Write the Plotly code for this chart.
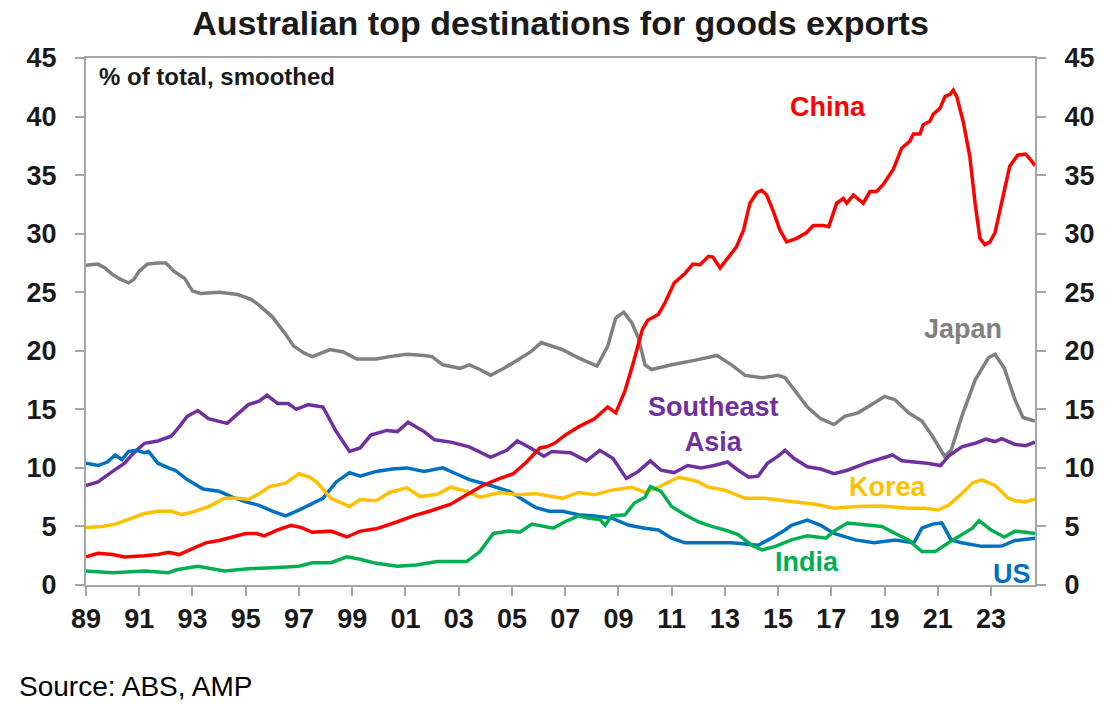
import plotly.graph_objects as go

# ---------------- data ----------------
tick_years = [1989, 1991, 1993, 1995, 1997, 1999, 2001, 2003, 2005, 2007,
              2009, 2011, 2013, 2015, 2017, 2019, 2021, 2023]
tick_labels = ["89", "91", "93", "95", "97", "99", "01", "03", "05", "07",
               "09", "11", "13", "15", "17", "19", "21", "23"]
y_ticks = [0, 5, 10, 15, 20, 25, 30, 35, 40, 45]

japan_x = [1989.0, 1989.45, 1989.7, 1990.0, 1990.3, 1990.6, 1990.8, 1991.0, 1991.3, 1991.7,
           1992.0, 1992.3, 1992.7, 1993.0, 1993.3, 1994.0, 1994.7, 1995.2, 1995.5, 1996.0,
           1996.5, 1996.8, 1997.2, 1997.5, 1998.17, 1998.67, 1999.17, 1999.9, 2000.4, 2001.05,
           2001.7, 2002.0, 2002.4, 2003.05, 2003.4, 2003.8, 2004.2, 2004.7, 2005.2, 2005.7,
           2006.1, 2006.4, 2006.9, 2007.5, 2008.2, 2008.6, 2008.9, 2009.2, 2009.5, 2009.75,
           2010.0, 2010.25, 2011.0, 2011.9, 2012.7, 2013.25, 2013.76, 2014.4, 2015.0, 2015.26,
           2015.6, 2016.1, 2016.6, 2017.1, 2017.5, 2018.0, 2018.5, 2019.0, 2019.4, 2019.9,
           2020.4, 2020.8, 2021.25, 2021.5, 2021.9, 2022.4, 2022.9, 2023.15, 2023.5, 2023.9,
           2024.2, 2024.65]
japan_y = [27.3, 27.4, 27.1, 26.5, 26.1, 25.8, 26.1, 26.8, 27.4, 27.5,
           27.5, 26.8, 26.2, 25.1, 24.9, 25.0, 24.8, 24.4, 23.9, 22.9,
           21.4, 20.4, 19.8, 19.5, 20.1, 19.9, 19.3, 19.3, 19.5, 19.7,
           19.6, 19.5, 18.8, 18.5, 18.8, 18.4, 17.9, 18.5, 19.2, 19.9,
           20.7, 20.5, 20.1, 19.4, 18.7, 20.4, 22.8, 23.3, 22.4, 21.1,
           18.8, 18.4, 18.8, 19.2, 19.6, 18.8, 17.9, 17.7, 17.9, 17.7,
           16.7, 15.2, 14.2, 13.7, 14.4, 14.7, 15.4, 16.1, 15.8, 14.7,
           14.0, 12.7, 11.0, 11.5, 14.4, 17.5, 19.4, 19.7, 18.5, 15.8,
           14.3, 14.0]

sea_x = [1989.0, 1989.45, 1990.0, 1990.45, 1990.8, 1991.2, 1991.7, 1992.2, 1992.5, 1992.8,
         1993.2, 1993.6, 1994.3, 1994.6, 1995.1, 1995.5, 1995.8, 1996.2, 1996.6, 1996.9,
         1997.35, 1997.9, 1998.4, 1998.9, 1999.3, 1999.7, 2000.3, 2000.7, 2001.1, 2001.7,
         2002.1, 2002.7, 2003.4, 2004.2, 2004.8, 2005.2, 2005.7, 2006.2, 2006.5, 2007.2,
         2007.8, 2008.3, 2008.8, 2009.3, 2009.75, 2010.2, 2010.6, 2011.1, 2011.6, 2012.1,
         2012.6, 2013.1, 2013.5, 2013.9, 2014.25, 2014.6, 2015.0, 2015.26, 2015.6, 2016.1,
         2016.6, 2017.1, 2017.6, 2018.3, 2018.9, 2019.3, 2019.65, 2020.1, 2020.6, 2021.1,
         2021.4, 2021.9, 2022.4, 2022.8, 2023.15, 2023.4, 2023.9, 2024.3, 2024.65]
sea_y = [8.5, 8.8, 9.7, 10.4, 11.3, 12.1, 12.3, 12.7, 13.5, 14.4,
         14.9, 14.2, 13.8, 14.4, 15.4, 15.7, 16.2, 15.5, 15.5, 15.0,
         15.4, 15.2, 13.1, 11.4, 11.7, 12.8, 13.2, 13.1, 13.9, 13.1,
         12.4, 12.2, 11.8, 10.9, 11.5, 12.3, 11.7, 11.0, 11.4, 11.3,
         10.6, 11.5, 10.8, 9.1, 9.7, 10.6, 9.8, 9.6, 10.2, 10.0,
         10.2, 10.5, 9.8, 9.2, 9.3, 10.4, 11.0, 11.5, 10.8, 10.1,
         9.9, 9.5, 9.8, 10.4, 10.8, 11.1, 10.6, 10.5, 10.4, 10.2,
         11.0, 11.8, 12.1, 12.45, 12.25, 12.5, 12.0, 11.9, 12.2]

us_x = [1989.0, 1989.45, 1989.8, 1990.1, 1990.35, 1990.6, 1990.9, 1991.2, 1991.35, 1991.7,
        1992.1, 1992.35, 1992.8, 1993.4, 1994.0, 1994.5, 1995.0, 1995.5, 1996.0, 1996.5,
        1997.0, 1997.5, 1997.9, 1998.4, 1998.9, 1999.3, 1999.9, 2000.5, 2001.05, 2001.7,
        2002.4, 2002.9, 2003.4, 2004.2, 2004.9, 2005.4, 2005.9, 2006.4, 2006.9, 2007.5,
        2008.1, 2008.75, 2009.4, 2010.0, 2010.5, 2011.0, 2011.5, 2012.5, 2013.25, 2014.25,
        2014.75, 2015.26, 2015.5, 2016.1, 2016.6, 2017.1, 2017.9, 2018.6, 2019.4, 2020.1,
        2020.4, 2020.8, 2021.15, 2021.5, 2021.9, 2022.65, 2023.4, 2023.9, 2024.65]
us_y = [10.4, 10.2, 10.5, 11.1, 10.7, 11.4, 11.5, 11.3, 11.4, 10.4,
        10.0, 9.8, 9.0, 8.2, 8.0, 7.5, 7.1, 6.8, 6.3, 5.9,
        6.4, 7.0, 7.4, 8.8, 9.6, 9.3, 9.7, 9.9, 10.0, 9.7,
        10.0, 9.5, 9.0, 8.5, 8.0, 7.3, 6.6, 6.3, 6.3, 6.0,
        5.9, 5.7, 5.1, 4.85, 4.7, 4.0, 3.6, 3.6, 3.6, 3.4,
        4.0, 4.7, 5.1, 5.55, 5.1, 4.4, 3.85, 3.6, 3.85, 3.6,
        4.85, 5.2, 5.3, 3.85, 3.6, 3.3, 3.33, 3.8, 4.0]

korea_x = [1989.0, 1989.6, 1990.1, 1990.6, 1991.2, 1991.7, 1992.2, 1992.6, 1993.1, 1993.6,
           1994.2, 1994.7, 1995.1, 1995.5, 1995.9, 1996.5, 1997.0, 1997.42, 1997.7, 1998.2,
           1998.9, 1999.3, 1999.9, 2000.4, 2001.05, 2001.55, 2002.2, 2002.7, 2003.3, 2003.8,
           2004.55, 2005.2, 2005.9, 2006.4, 2006.9, 2007.5, 2008.1, 2008.75, 2009.5, 2010.0,
           2010.5, 2011.25, 2011.9, 2012.4, 2013.0, 2013.76, 2014.5, 2015.26, 2015.6, 2016.4,
           2017.1, 2017.9, 2018.9, 2019.9, 2020.5, 2021.0, 2021.4, 2021.9, 2022.3, 2022.65,
           2023.15, 2023.65, 2023.9, 2024.3, 2024.65]
korea_y = [4.9, 5.0, 5.2, 5.6, 6.1, 6.3, 6.3, 6.0, 6.3, 6.7,
           7.4, 7.4, 7.3, 7.8, 8.4, 8.7, 9.5, 9.2, 8.7, 7.4,
           6.7, 7.3, 7.2, 7.9, 8.3, 7.55, 7.75, 8.35, 8.0, 7.5,
           7.9, 7.7, 7.8, 7.6, 7.4, 7.9, 7.7, 8.1, 8.35, 7.9,
           8.35, 9.2, 8.9, 8.35, 8.1, 7.4, 7.4, 7.2, 7.1, 6.9,
           6.55, 6.7, 6.75, 6.55, 6.55, 6.4, 6.8, 7.8, 8.7, 8.97,
           8.5, 7.4, 7.2, 7.1, 7.35]

china_x = [1989.0, 1989.45, 1990.0, 1990.45, 1991.2, 1991.7, 1992.1, 1992.5, 1993.0, 1993.5,
           1994.0, 1994.5, 1995.0, 1995.4, 1995.7, 1996.2, 1996.7, 1997.1, 1997.5, 1998.2,
           1998.8, 1999.3, 1999.9, 2000.7, 2001.3, 2001.9, 2002.7, 2003.3, 2003.9, 2004.55,
           2005.05, 2005.55, 2006.05, 2006.3, 2006.6, 2007.0, 2007.5, 2008.1, 2008.6, 2008.9,
           2009.25, 2009.55, 2009.9, 2010.1, 2010.5, 2010.75, 2011.1, 2011.5, 2011.8, 2012.07,
           2012.38, 2012.55, 2012.82, 2013.07, 2013.44, 2013.7, 2013.94, 2014.2, 2014.38, 2014.57,
           2014.82, 2015.07, 2015.32, 2015.7, 2016.07, 2016.32, 2016.7, 2016.9, 2017.2, 2017.45,
           2017.58, 2017.83, 2018.2, 2018.45, 2018.7, 2018.95, 2019.33, 2019.64, 2019.95, 2020.08,
           2020.33, 2020.45, 2020.7, 2020.83, 2021.08, 2021.27, 2021.46, 2021.58, 2021.71, 2021.96,
           2022.2, 2022.4, 2022.58, 2022.77, 2022.96, 2023.15, 2023.4, 2023.7, 2024.0, 2024.3,
           2024.45, 2024.65]
china_y = [2.4, 2.7, 2.6, 2.4, 2.5, 2.6, 2.8, 2.6, 3.1, 3.6,
           3.8, 4.1, 4.4, 4.4, 4.2, 4.7, 5.1, 4.9, 4.5, 4.6,
           4.1, 4.6, 4.8, 5.4, 5.9, 6.3, 6.9, 7.7, 8.5, 9.1,
           9.5, 10.5, 11.7, 11.8, 12.1, 12.8, 13.5, 14.2, 15.2, 14.7,
           16.6, 18.9, 21.8, 22.6, 23.1, 24.1, 25.8, 26.6, 27.4, 27.35,
           28.06, 28.0, 27.07, 27.8, 28.9, 30.3, 32.6, 33.5, 33.7, 33.3,
           31.9, 30.3, 29.3, 29.6, 30.1, 30.7, 30.7, 30.6, 32.6, 33.0,
           32.6, 33.3, 32.6, 33.6, 33.6, 34.2, 35.5, 37.3, 37.9, 38.5,
           38.5, 39.3, 39.6, 40.2, 40.7, 41.7, 41.9, 42.25, 41.7, 39.5,
           36.6, 32.6, 29.6, 29.06, 29.3, 30.1, 32.6, 35.75, 36.7, 36.8,
           36.4, 35.8]

india_x = [1989.0, 1990.0, 1991.2, 1992.1, 1992.4, 1993.2, 1994.2, 1995.2, 1996.2, 1997.0,
           1997.5, 1998.2, 1998.8, 1999.3, 1999.9, 2000.7, 2001.4, 2002.2, 2002.9, 2003.3,
           2003.8, 2004.3, 2004.9, 2005.3, 2005.75, 2006.2, 2006.55, 2006.99, 2007.5, 2007.9,
           2008.3, 2008.5, 2008.75, 2009.25, 2009.6, 2010.0, 2010.2, 2010.6, 2011.0, 2011.5,
           2012.0, 2012.5, 2013.0, 2013.5, 2014.0, 2014.4, 2014.9, 2015.5, 2016.1, 2016.8,
           2017.1, 2017.6, 2018.4, 2018.9, 2019.4, 2019.9, 2020.4, 2020.9, 2021.4, 2021.9,
           2022.3, 2022.55, 2023.0, 2023.5, 2023.9, 2024.3, 2024.65]
india_y = [1.2, 1.05, 1.2, 1.05, 1.3, 1.6, 1.2, 1.4, 1.5, 1.6,
           1.9, 1.9, 2.4, 2.2, 1.85, 1.6, 1.7, 2.0, 2.0, 2.0,
           2.85, 4.4, 4.6, 4.5, 5.2, 5.0, 4.85, 5.4, 5.9, 5.7,
           5.6, 5.1, 5.9, 6.0, 7.0, 7.5, 8.4, 8.0, 6.7, 6.0,
           5.4, 5.0, 4.7, 4.3, 3.4, 3.0, 3.3, 3.85, 4.2, 4.0,
           4.6, 5.3, 5.1, 5.0, 4.4, 3.85, 2.85, 2.85, 3.6, 4.3,
           4.85, 5.5, 4.7, 4.1, 4.6, 4.5, 4.4]

series = [
    ("Japan", japan_x, japan_y, "#808080"),
    ("Southeast Asia", sea_x, sea_y, "#7030A0"),
    ("US", us_x, us_y, "#0070C0"),
    ("Korea", korea_x, korea_y, "#FFC000"),
    ("India", india_x, india_y, "#00B050"),
    ("China", china_x, china_y, "#FF0000"),
]
# label text, anchor (year, value), colour
labels = [
    ("China", 2016.87, 40.8, "#FF0000"),
    ("Japan", 2021.94, 21.9, "#808080"),
    ("Southeast<br>Asia", 2012.59, 13.7, "#7030A0"),
    ("Korea", 2019.13, 8.33, "#FFC000"),
    ("India", 2016.1, 1.97, "#00B050"),
    ("US", 2023.8, 0.98, "#0070C0"),
]

FONT = "Liberation Sans, Arial, sans-serif"
AXIS_COL = "#A6A6A6"

fig = go.Figure()
for name, xs, ys, col in series:
    fig.add_trace(go.Scatter(x=xs, y=ys, mode="lines", name=name,
                             line=dict(color=col, width=3.5), showlegend=False))
# empty trace so the right-hand axis is drawn
fig.add_trace(go.Scatter(x=[], y=[], yaxis="y2", showlegend=False, hoverinfo="skip"))

for text, lx, ly, col in labels:
    fig.add_annotation(x=lx, y=ly, xref="x", yref="y", text=text, showarrow=False,
                       font=dict(family=FONT, size=27, color=col, weight="bold"),
                       align="center", xanchor="center", yanchor="middle")

fig.add_annotation(x=0.0113, y=0.9658, xref="paper", yref="paper",
                   text="% of total, smoothed", showarrow=False,
                   xanchor="left", yanchor="middle",
                   font=dict(family=FONT, size=24, color="#1a1a1a", weight="bold"))
fig.add_annotation(x=-0.0727, y=-0.192, xref="paper", yref="paper",
                   text="Source: ABS, AMP", showarrow=False,
                   xanchor="left", yanchor="middle",
                   font=dict(family=FONT, size=28, color="#000000"))

tickfont = dict(family=FONT, size=27, color="#1a1a1a", weight="bold")
yaxis_common = dict(range=[0, 45], tickvals=y_ticks, ticktext=[str(v) for v in y_ticks],
                    showgrid=False, zeroline=False, showline=True, linecolor=AXIS_COL,
                    linewidth=2, ticks="outside", ticklen=9, tickcolor=AXIS_COL,
                    tickwidth=2, tickfont=tickfont, ticklabelstandoff=13, fixedrange=True)

W, H = 1120, 723
fig.update_layout(
    width=W, height=H,
    paper_bgcolor="white", plot_bgcolor="white",
    margin=dict(l=86, r=85, t=58, b=138),
    title=dict(text="Australian top destinations for goods exports",
               x=0.5, xref="paper", xanchor="center",
               y=1 - 23 / H, yref="container", yanchor="middle",
               font=dict(family=FONT, size=34, color="#1a1a1a", weight="bold")),
    xaxis=dict(range=[1989, 2024.65], tickvals=tick_years, ticktext=tick_labels,
               showgrid=False, zeroline=False, showline=True, linecolor=AXIS_COL,
               linewidth=2, mirror=True, ticks="outside", ticklen=9, tickcolor=AXIS_COL,
               tickwidth=2, tickfont=tickfont, ticklabelstandoff=0, fixedrange=True),
    yaxis=dict(side="left", **yaxis_common),
    yaxis2=dict(side="right", overlaying="y", **yaxis_common),
)

# remove the browser's default 8px body margin so the figure fills the window
fig.write_html("out.html",
               config={"displayModeBar": False},
               post_script="document.body.style.margin='0';document.body.style.overflow='hidden';")
